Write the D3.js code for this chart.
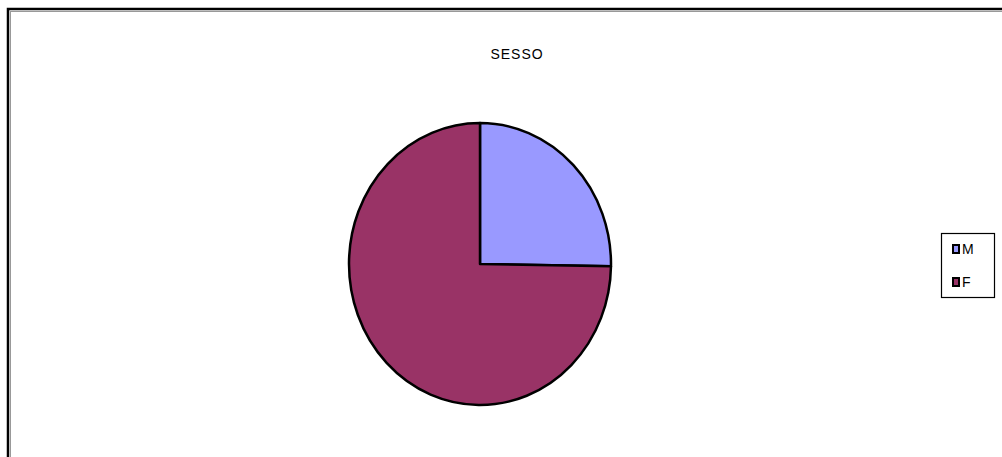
<!DOCTYPE html>
<html>
<head>
<meta charset="utf-8">
<script src="https://cdn.jsdelivr.net/npm/d3@7"></script>
<style>
  html, body { margin: 0; padding: 0; background: #fff; }
  svg { display: block; }
</style>
</head>
<body>
<svg id="chart"></svg>
<script>
// sex breakdown pie
const categories = ["M", "F"];
const values = [24, 71];
const colors = ["#9999FF", "#993366"];
const title = "SESSO";

const width = 1002,
  height = 457;
const cx = 480,
  cy = 264,
  rx = 131,
  ry = 141;

const svg = d3.select("svg#chart").attr("width", width).attr("height", height);

// frame (top-left corner only visible)
svg.append("rect")
  .attr("x", 8).attr("y", 9)
  .attr("width", width + 20).attr("height", height + 20)
  .attr("fill", "none").attr("stroke", "#000").attr("stroke-width", 2.5);
svg.append("rect")
  .attr("x", 10.5).attr("y", 11.5)
  .attr("width", width + 20).attr("height", height + 20)
  .attr("fill", "none").attr("stroke", "#999").attr("stroke-width", 1);

svg.append("text")
  .attr("x", 517)
  .attr("y", 59)
  .attr("text-anchor", "middle")
  .style("font-family", "Liberation Sans, Arial, sans-serif")
  .style("font-size", "14px")
  .style("letter-spacing", "1px")
  .text(title);

const color = d3.scaleOrdinal(categories, colors);
const pie = d3.pie().sort(null).value(d => d.value);
const arc = d3.arc().innerRadius(0).outerRadius(ry);
const data = categories.map((c, i) => ({ name: c, value: values[i] }));

svg.append("g")
  .attr("transform", `translate(${cx},${cy}) scale(${rx / ry},1)`)
  .selectAll("path")
  .data(pie(data))
  .join("path")
  .attr("d", arc)
  .attr("fill", d => color(d.data.name))
  .attr("stroke", "#000")
  .attr("stroke-width", 2.5)
  .attr("stroke-linejoin", "round")
  .attr("vector-effect", "non-scaling-stroke");

// legend
const legend = svg.append("g").attr("transform", "translate(941,233)");
legend.append("rect")
  .attr("x", 0.5).attr("y", 0.5)
  .attr("width", 53).attr("height", 64)
  .attr("fill", "#fff").attr("stroke", "#000").attr("stroke-width", 1.2);

const item = legend.selectAll("g.item")
  .data(categories)
  .join("g")
  .attr("class", "item")
  .attr("transform", (d, i) => `translate(12,${12 + i * 33})`);
item.append("rect")
  .attr("x", 0).attr("y", 0)
  .attr("width", 6).attr("height", 8)
  .attr("fill", d => color(d))
  .attr("stroke", "#000").attr("stroke-width", 2);
item.append("text")
  .attr("x", 9)
  .attr("y", 9)
  .style("font-family", "Liberation Sans, Arial, sans-serif")
  .style("font-size", "14px")
  .text(d => d);
</script>
</body>
</html>
